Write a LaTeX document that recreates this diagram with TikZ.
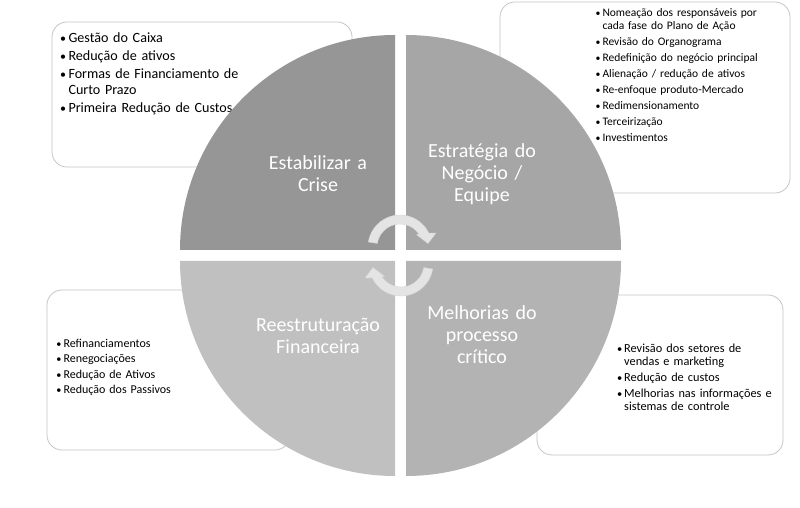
\documentclass[tikz,border=0pt]{standalone}
\usepackage{fontspec}
\setmainfont{Carlito}
\usetikzlibrary{calc}
\definecolor{qTL}{HTML}{969696}
\definecolor{qTR}{HTML}{A6A6A6}
\definecolor{qBL}{HTML}{C0C0C0}
\definecolor{qBR}{HTML}{B3B3B3}
\definecolor{boxline}{HTML}{C6C6C6}
\definecolor{arrowfill}{HTML}{E4E4E4}
\definecolor{arrowline}{HTML}{D6D6D6}
\newlength{\bulw}
\newcommand{\bl}{\leavevmode\llap{\makebox[\bulw][c]{\scalebox{0.85}{•}}}}
\newcommand{\cl}{\leavevmode}
\begin{document}
\begin{tikzpicture}[x=1pt,y=1pt,
  infobox/.style={draw=boxline, line width=0.8pt, fill=white, rounded corners=15pt, inner sep=0pt},
  bullets/.style={anchor=base west, inner sep=0pt, text width=220pt, align=left},
  qlabel/.style={anchor=base, inner sep=0pt, text width=170pt, align=center, text=white, font=\fontsize{20}{22}\selectfont},
  cyc/.style={fill=arrowfill, draw=arrowline, line width=0.4pt}]
\useasboundingbox (0,0) rectangle (800,508);
\fill[white] (0,0) rectangle (800,508);

% info boxes
\node[infobox, minimum width=300pt, minimum height=145pt] (box1) at (202,413.5) {};
\node[infobox, minimum width=290pt, minimum height=191pt] (box2) at (645,410.5) {};
\node[infobox, minimum width=243pt, minimum height=160pt] (box3) at (168.5,138) {};
\node[infobox, minimum width=246pt, minimum height=160pt] (box4) at (660,133) {};

\node[bullets, font=\fontsize{14.1}{16}\selectfont] (t1) at (57.3,465) {\setlength{\bulw}{11pt}\setlength{\leftskip}{\bulw}%
\bl Gestão do Caixa\\[1.7pt]
\bl Redução de ativos\\[1.7pt]
\bl Formas de Financiamento de\\
\cl Curto Prazo\\[1.7pt]
\bl Primeira Redução de Custos\par};

\node[bullets, font=\fontsize{11.5}{12.8}\selectfont] (t2) at (593.3,491) {\setlength{\bulw}{9pt}\setlength{\leftskip}{\bulw}%
\bl Nomeação dos responsáveis por\\
\cl cada fase do Plano de Ação\\[3.2pt]
\bl Revisão do Organograma\\[3.2pt]
\bl Redefinição do negócio principal\\[3.2pt]
\bl Alienação / redução de ativos\\[3.2pt]
\bl Re-enfoque produto-Mercado\\[3.2pt]
\bl Redimensionamento\\[3.2pt]
\bl Terceirização\\[3.2pt]
\bl Investimentos\par};

\node[bullets, font=\fontsize{12}{15.4}\selectfont] (t3) at (54.3,160.7) {\setlength{\bulw}{9pt}\setlength{\leftskip}{\bulw}%
\bl Refinanciamentos\\
\bl Renegociações\\
\bl Redução de Ativos\\
\bl Redução dos Passivos\par};

\node[bullets, font=\fontsize{12.3}{12.8}\selectfont] (t4) at (615,155.5) {\setlength{\bulw}{9pt}\setlength{\leftskip}{\bulw}%
\bl Revisão dos setores de\\
\cl vendas e marketing\\[3.2pt]
\bl Redução de custos\\[3.2pt]
\bl Melhorias nas informações e\\
\cl sistemas de controle\par};

% quadrants
\fill[qTL] (395,258) -- (180,258) arc[start angle=180,end angle=90,radius=215] -- cycle;
\fill[qTR] (406,258) -- (406,473) arc[start angle=90,end angle=0,radius=215] -- cycle;
\fill[qBL] (395,247) -- (180,247) arc[start angle=180,end angle=270,radius=215] -- cycle;
\fill[qBR] (406,247) -- (621,247) arc[start angle=0,end angle=-90,radius=215] -- cycle;

\node[qlabel] (l1) at (318,338) {Estabilizar a\\Crise};
\node[qlabel] (l2) at (482,350.3) {Estratégia do\\Negócio /\\Equipe};
\node[qlabel] (l3) at (318,176.3) {Reestruturação\\Financeira};
\node[qlabel] (l4) at (482,188) {Melhorias do\\processo\\crítico};

% circular arrows
\coordinate (c1) at (400,261);
\coordinate (c2) at (401,244);
\path[cyc] ($(c1)+(171:32)$) arc[start angle=171,end angle=25.5,radius=32]
  -- ($(c1)+(36,14)$) -- ($(c1)+(28,3.5)$) -- ($(c1)+(16.5,12.3)$)
  -- ($(c1)+(34.2:23)$) arc[start angle=34.2,end angle=171,radius=23] -- cycle;
\path[cyc] ($(c2)+(351:32)$) arc[start angle=351,end angle=205.5,radius=32]
  -- ($(c2)+(-36,-14)$) -- ($(c2)+(-28,-3.5)$) -- ($(c2)+(-16.5,-12.3)$)
  -- ($(c2)+(214.2:23)$) arc[start angle=214.2,end angle=351,radius=23] -- cycle;
\end{tikzpicture}
\end{document}
